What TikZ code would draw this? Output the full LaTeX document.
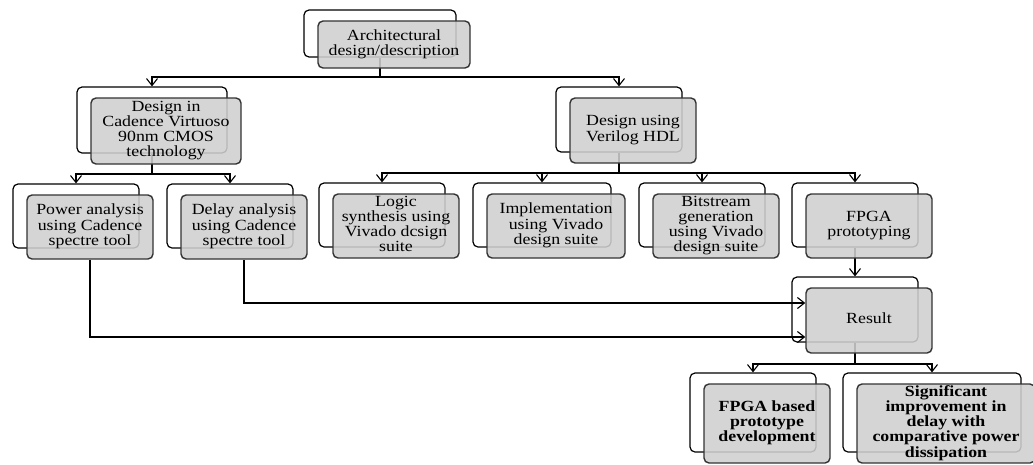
\documentclass[tikz,border=0pt]{standalone}
\usepackage{fontspec}
\setmainfont{Liberation Serif}
\usetikzlibrary{arrows.meta}
\pgfdeclarelayer{bg}
\pgfsetlayers{bg,main}
\tikzset{
 backbox/.style={draw=black, line width=1.2pt, rounded corners=5pt, inner sep=0pt},
 frontbox/.style={draw=black!80, line width=1.4pt, rounded corners=5pt, fill=black!19, fill opacity=0.88, text opacity=1, inner sep=0pt, align=center, font=\fontsize{15.5}{15}\selectfont},
 conn/.style={line width=1.2pt, draw=black},
 arr/.style={conn, -{Straight Barb[length=7pt,width=11pt,line width=1.1pt]}},
}
\newcommand\tx[1]{\scalebox{1.15}[1]{\begin{tabular}{@{}c@{}}#1\end{tabular}}}
% #1 name, #2 x1, #3 y1, #4 x2, #5 y2 (back box), #6 text
\newcommand\blk[6]{%
 \begin{pgfonlayer}{bg}
 \node[backbox, minimum width={#4pt-#2pt}, minimum height={#5pt-#3pt}] (#1b) at ({(#2+#4)/2},{(#3+#5)/2}) {};
 \end{pgfonlayer}
 \node[frontbox, minimum width={#4pt-#2pt}, minimum height={#5pt-#3pt}] (#1) at ({(#2+#4)/2+14},{(#3+#5)/2+11}) {\tx{#6}};
}
\begin{document}
\begin{tikzpicture}[x=1pt,y=-1pt]
\useasboundingbox (0,0) rectangle (1033,464);
\blk{A}{304}{10}{456}{57}{Architectural\\design/description}
\blk{B}{77}{87}{227}{153}{Design in\\Cadence Virtuoso\\90nm CMOS\\technology}
\blk{C}{556}{87}{682}{152}{Design using\\Verilog HDL}
\blk{D}{13}{184}{139}{248}{Power analysis\\using Cadence\\spectre tool}
\blk{E}{167}{184}{293}{248}{Delay analysis\\using Cadence\\spectre tool}
\blk{F}{319}{183}{445}{247}{Logic\\synthesis using\\Vivado dcsign\\suite}
\blk{G}{473}{183}{611}{247}{Implementation\\using Vivado\\design suite}
\blk{H}{639}{183}{765}{247}{Bitstream\\generation\\using Vivado\\design suite}
\blk{I}{792}{183}{918}{247}{FPGA\\prototyping}
\blk{R}{792}{277}{918}{342}{Result}
\blk{J}{690}{373}{816}{452}{\textbf{FPGA based}\\\textbf{prototype}\\\textbf{development}}
\blk{K}{843}{373}{1021}{452}{\textbf{Significant}\\\textbf{improvement in}\\\textbf{delay with}\\\textbf{comparative power}\\\textbf{dissipation}}
\coordinate (y1) at (0,77);
\coordinate (y2) at (0,174);
\coordinate (y3) at (0,173);
\coordinate (y4) at (0,303);
\coordinate (y5) at (0,337);
\coordinate (y6) at (0,364);
\begin{pgfonlayer}{bg}
\draw[conn] (Ab.south) -- (Ab.south |- y1);
\draw[arr] (Ab.south |- y1) -| (Bb.north);
\draw[arr] (Ab.south |- y1) -| (Cb.north);
\draw[conn] (Bb.south) -- (Bb.south |- y2);
\draw[arr] (Bb.south |- y2) -| (Db.north);
\draw[arr] (Bb.south |- y2) -| (Eb.north);
\draw[conn] (Cb.south) -- (Cb.south |- y3);
\draw[arr] (Cb.south |- y3) -| (Fb.north);
\draw[arr] (Cb.south |- y3) -| (Gb.north);
\draw[arr] (Cb.south |- y3) -| (Hb.north);
\draw[arr] (Cb.south |- y3) -| (Ib.north);
\draw[arr] (Ib.south) -- (Rb.north);
\draw[arr] (E.south) |- (R.west |- y4);
\draw[arr] (D.south) |- (R.west |- y5);
\draw[conn] (Rb.south) -- (Rb.south |- y6);
\draw[arr] (Rb.south |- y6) -| (Jb.north);
\draw[arr] (Rb.south |- y6) -| (Kb.north);
\end{pgfonlayer}
\end{tikzpicture}
\end{document}
